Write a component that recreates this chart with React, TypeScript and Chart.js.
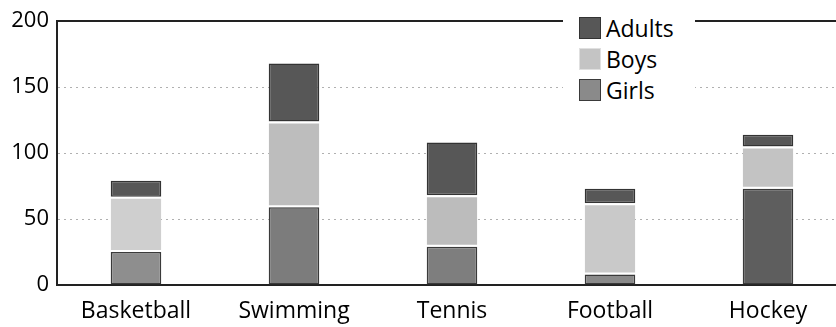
import React, { useEffect, useRef } from "react";
import { Chart, registerables } from "chart.js";

Chart.register(...registerables);

const categories = ["Basketball", "Swimming", "Tennis", "Football", "Hockey"];
const girls = [25, 59, 29, 8, 73];
const boys = [42, 65, 39, 54, 32];
const adults = [12, 44, 40, 11, 9];
const yMin = 0;
const yMax = 200;
const yStep = 50;
const legendLabels = ["Adults", "Boys", "Girls"];

const FONT = "'Open Sans', 'Noto Sans', sans-serif";
const adultsColor = "#575757";
const boysColors = ["#cfcfcf", "#bdbdbd", "#bcbcbc", "#c9c9c9", "#c3c3c3"];
const girlsColors = ["#8e8e8e", "#7c7c7c", "#7e7e7e", "#8a8a8a", "#5e5e5e"];

const swatch: Record<string, React.CSSProperties> = {
  Adults: { background: adultsColor, border: "1.5px solid #333" },
  Boys: { background: "#c4c4c4", border: "1.5px solid #e0e0e0" },
  Girls: { background: "#8a8a8a", border: "1.5px solid #3a3a3a" },
};

export default function App() {
  const ref = useRef<HTMLCanvasElement>(null);

  useEffect(() => {
    const chart = new Chart(ref.current!, {
      type: "bar",
      data: {
        labels: categories,
        datasets: [
          {
            label: "Girls",
            data: girls,
            backgroundColor: girlsColors,
            borderColor: "#3a3a3a",
            borderWidth: 1.5,
            borderSkipped: false,
            barPercentage: 0.32,
            categoryPercentage: 1,
          },
          {
            label: "Boys",
            data: boys,
            backgroundColor: boysColors,
            borderColor: "#ffffff",
            borderWidth: { top: 2, bottom: 2, left: 0, right: 0 },
            borderSkipped: false,
            barPercentage: 0.32,
            categoryPercentage: 1,
          },
          {
            label: "Adults",
            data: adults,
            backgroundColor: adultsColor,
            borderColor: "#333333",
            borderWidth: 1.5,
            borderSkipped: false,
            barPercentage: 0.32,
            categoryPercentage: 1,
          },
        ],
      },
      options: {
        responsive: false,
        animation: false,
        layout: { padding: { top: 20, right: 0, bottom: 0, left: 0 } },
        plugins: { legend: { display: false }, tooltip: { enabled: false } },
        scales: {
          x: {
            stacked: true,
            offset: true,
            grid: { display: false },
            border: { display: true, color: "#222", width: 2 },
            ticks: {
              color: "#000",
              font: { family: FONT, size: 23 },
              padding: 5,
              maxRotation: 0,
              autoSkip: false,
            },
            afterFit: (s: any) => {
              s.height = 42;
            },
          },
          y: {
            stacked: true,
            min: yMin,
            max: yMax,
            ticks: {
              stepSize: yStep,
              color: "#000",
              font: { family: FONT, size: 22 },
              padding: 8,
            },
            grid: {
              drawTicks: false,
              color: (ctx: any) =>
                ctx.tick && ctx.tick.value === yMax
                  ? "#222"
                  : ctx.tick && ctx.tick.value === yMin
                  ? "rgba(0,0,0,0)"
                  : "#b0b0b0",
              lineWidth: (ctx: any) => (ctx.tick && ctx.tick.value === yMax ? 2 : 1),
            },
            border: {
              display: true,
              color: "#222",
              width: 2,
              dash: (ctx: any) =>
                ctx.tick && ctx.tick.value !== yMax && ctx.tick.value !== yMin ? [2, 4] : [],
            },
            afterFit: (s: any) => {
              s.width = 57;
            },
          },
        },
      },
    });
    return () => chart.destroy();
  }, []);

  return (
    <div
      style={{
        position: "fixed",
        left: 0,
        top: 0,
        width: 836,
        height: 327,
        overflow: "hidden",
        background: "#fff",
      }}
    >
      <canvas ref={ref} width={847} height={327} style={{ display: "block" }} />
      <div
        style={{
          position: "absolute",
          left: 563,
          top: 8,
          width: 132,
          height: 98,
          background: "#fff",
        }}
      >
        {legendLabels.map((l, i) => (
          <div
            key={l}
            style={{
              position: "absolute",
              left: 16,
              top: 9 + i * 31,
              height: 22,
              display: "flex",
              alignItems: "center",
              fontFamily: FONT,
              fontSize: 23,
              color: "#000",
              whiteSpace: "nowrap",
            }}
          >
            <span
              style={{
                display: "inline-block",
                width: 22,
                height: 22,
                boxSizing: "border-box",
                marginRight: 5,
                ...swatch[l],
              }}
            />
            <span>{l}</span>
          </div>
        ))}
      </div>
    </div>
  );
}
